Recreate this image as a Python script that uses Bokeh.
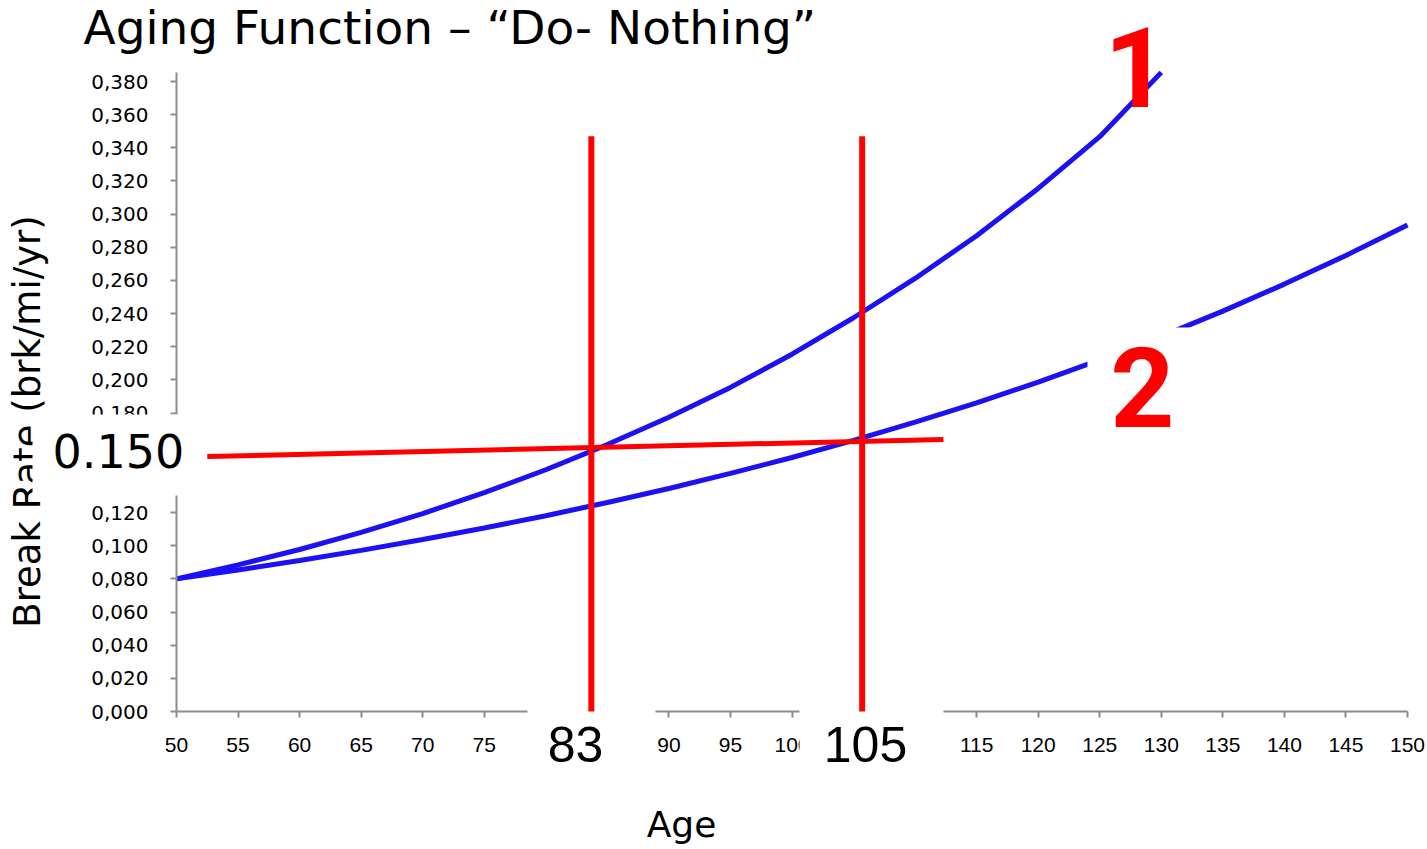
import math
from bokeh.plotting import figure
from bokeh.models import Label, BoxAnnotation, FixedTicker, CustomJSTickFormatter, Range1d
from bokeh.embed import file_html
from bokeh.resources import INLINE

# ---------------- data ----------------
curve1_age = [50, 55, 60, 65, 70, 75, 80, 85, 90, 95, 100, 105, 110, 115, 120, 125, 130]
curve1_rate = [0.0800, 0.0884, 0.0977, 0.1080, 0.1194, 0.1320, 0.1458, 0.1610, 0.1775,
               0.1955, 0.2155, 0.2375, 0.2612, 0.2870, 0.3155, 0.3467, 0.3855]

curve2_age = [50, 55, 60, 65, 70, 75, 80, 85, 90, 95, 100, 105, 110, 115, 120, 125, 130,
              135, 140, 145, 150]
curve2_rate = [0.0800, 0.0853, 0.0911, 0.0972, 0.1037, 0.1107, 0.1181, 0.1261, 0.1345,
               0.1436, 0.1532, 0.1635, 0.1745, 0.1862, 0.1987, 0.2121, 0.2263, 0.2415,
               0.2578, 0.2751, 0.2935]

threshold_age = [52.5, 112.3]
threshold_rate = [0.1538, 0.1641]

crossing_age = [83.7, 105.7]
crossing_top = [0.347, 0.347]
crossing_bottom = [0.0, 0.0]

x_ticks = [50, 55, 60, 65, 70, 75, 80, 85, 90, 95, 100, 105, 110, 115, 120, 125, 130,
           135, 140, 145, 150]
y_ticks = [0.0, 0.02, 0.04, 0.06, 0.08, 0.10, 0.12, 0.14, 0.16, 0.18, 0.20, 0.22, 0.24,
           0.26, 0.28, 0.30, 0.32, 0.34, 0.36, 0.38]
x_axis_span = (50, 150)
y_axis_span = (0.0, 0.3854)

title_text = "Aging Function \u2013 \u201cDo- Nothing\u201d"
x_label = "Age"
y_label = "Break Rate (brk/mi/yr)"
threshold_label = "0.150"
crossing_labels = ["83", "105"]
curve_labels = ["1", "2"]

# ---------------- geometry (canvas pixels -> data) ----------------
W, H = 1427, 849
BASE_SHIFT = 0.39  # renderer places alphabetic baseline ~0.39em low; compensate


def px(c):
    return 50 + (c - 176) * 100 / 1231


def py(c):
    return (711 - c) * 0.38 / 630


def text(x, y, s, font, size, color="black", align="left", angle=0.0, style="normal"):
    if angle:
        x = x - BASE_SHIFT * size
    else:
        y = y - BASE_SHIFT * size
    return Label(x=px(x), y=py(y), text=s, text_font=font, text_font_size=f"{size}px",
                 text_color=color, text_baseline="alphabetic", text_align=align,
                 angle=angle, text_font_style=style)


p = figure(width=W, height=H, x_range=Range1d(px(0), px(W)), y_range=Range1d(py(H), py(0)),
           output_backend="svg", toolbar_location=None, min_border=0,
           min_border_left=0, min_border_right=0, min_border_top=0, min_border_bottom=0)
p.outline_line_color = None
p.xgrid.visible = False
p.ygrid.visible = False
p.background_fill_color = "white"
p.border_fill_color = "white"

axis_col = "#8c8c8c"
for ax in (p.xaxis[0], p.yaxis[0]):
    ax.axis_line_color = axis_col
    ax.axis_line_width = 2
    ax.major_tick_line_color = axis_col
    ax.major_tick_line_width = 2
    ax.major_tick_out = 6
    ax.major_tick_in = 0
    ax.minor_tick_line_color = None
    ax.major_label_text_color = "black"

p.xaxis.fixed_location = 0.0
p.xaxis.bounds = x_axis_span
p.xaxis.ticker = FixedTicker(ticks=x_ticks)
p.xaxis.major_label_text_font = "Liberation Sans"
p.xaxis.major_label_text_font_size = "21px"
p.xaxis.major_label_standoff = 20

p.yaxis.fixed_location = 50
p.yaxis.bounds = y_axis_span
p.yaxis.ticker = FixedTicker(ticks=y_ticks)
p.yaxis.formatter = CustomJSTickFormatter(code="return tick.toFixed(3).replace('.', ',');")
p.yaxis.major_label_text_font = "DejaVu Sans"
p.yaxis.major_label_text_font_size = "20px"
p.yaxis.major_label_standoff = 22

blue = "#1c10f5"
red = "#ff0000"

p.line(curve1_age, curve1_rate, line_color=blue, line_width=5)
p.line(curve2_age, curve2_rate, line_color=blue, line_width=5)
p.line(threshold_age, threshold_rate, line_color=red, line_width=5)

# texts under the masks
p.add_layout(text(83, 45, title_text, "DejaVu Sans", 47))
p.add_layout(text(681, 838, x_label, "DejaVu Sans", 36, align="center"))
p.add_layout(text(41, 421, y_label, "DejaVu Sans", 37, align="center", angle=math.pi / 2))

# white masks
masks = [(32, 205, 414, 495), (527, 655, 708, 795), (799, 943, 708, 795), (1087, 1200, 327, 445)]
for l, r, t, b in masks:
    p.add_layout(BoxAnnotation(left=px(l), right=px(r), top=py(t), bottom=py(b),
                               fill_color="white", fill_alpha=1.0, line_color=None,
                               line_alpha=0))

p.segment(x0=crossing_age, y0=crossing_bottom, x1=crossing_age, y1=crossing_top,
          line_color=red, line_width=6, level="overlay")

# texts above the masks
p.add_layout(text(52, 468, threshold_label, "DejaVu Sans", 46))
for cx, txt in zip([575, 865], crossing_labels):
    p.add_layout(text(cx, 763, txt, "Liberation Sans", 50, align="center"))
for (cx, by), txt in zip([(1136, 110), (1142, 430)], curve_labels):
    p.add_layout(text(cx, by, txt, "Roboto", 112, color=red, align="center", style="bold"))

open("out.html", "w").write(file_html(p, INLINE))
